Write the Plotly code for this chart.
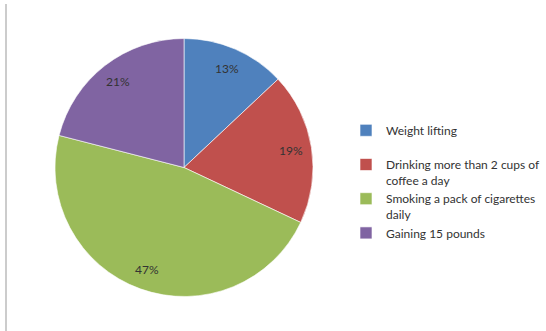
import math
import plotly.graph_objects as go

categories = ["Weight lifting<br> ", "Drinking more than 2 cups of<br>coffee a day",
              "Smoking a pack of cigarettes<br>daily", "Gaining 15 pounds"]
values = [13, 19, 47, 21]
colors = ["#4F81BD", "#C0504D", "#9BBB59", "#8064A2"]

W, H = 546, 331
# pie domain in pixels (left, right, top, bottom)
PX0, PX1, PY0, PY1 = 55, 313, 38, 297

fig = go.Figure(go.Pie(
    labels=categories,
    values=values,
    sort=False,
    direction="clockwise",
    rotation=0,
    marker=dict(colors=colors, line=dict(color="rgba(255,255,255,0.6)", width=1)),
    textinfo="none",
    domain=dict(x=[PX0 / W, PX1 / W], y=[1 - PY1 / H, 1 - PY0 / H]),
    hoverinfo="label+percent",
))

# percentage labels placed at 0.84 of the radius along each slice's mid-angle
cx, cy = (PX0 + PX1) / 2, (PY0 + PY1) / 2
R = min(PX1 - PX0, PY1 - PY0) / 2
total = sum(values)
annotations = []
cum = 0
for v in values:
    mid = (cum + v / 2) / total * 2 * math.pi
    cum += v
    x = cx + 0.84 * R * math.sin(mid)
    y = cy - 0.84 * R * math.cos(mid)
    annotations.append(dict(
        x=x / W, y=1 - y / H, xref="paper", yref="paper",
        xanchor="center", yanchor="middle",
        text=f"{round(v / total * 100)}%", showarrow=False,
        font=dict(family="Lato", size=12, color="#333333"),
    ))

fig.update_layout(
    width=W, height=H,
    margin=dict(l=0, r=0, t=0, b=0, autoexpand=False),
    paper_bgcolor="white",
    plot_bgcolor="white",
    font=dict(family="Lato", size=12, color="#333333"),
    showlegend=True,
    annotations=annotations,
    legend=dict(
        x=346 / W, y=1 - 116 / H, xanchor="left", yanchor="top",
        valign="top", itemwidth=30,
        font=dict(family="Lato", size=12, color="#333333"),
        bgcolor="rgba(0,0,0,0)",
    ),
    shapes=[dict(type="line", xref="paper", yref="paper",
                 x0=6 / W, x1=6 / W, y0=1 - 4 / H, y1=0,
                 line=dict(color="#999999", width=1))],
)

fig.write_html("out.html", config={"displayModeBar": False},
               post_script="document.body.style.margin='0';")
